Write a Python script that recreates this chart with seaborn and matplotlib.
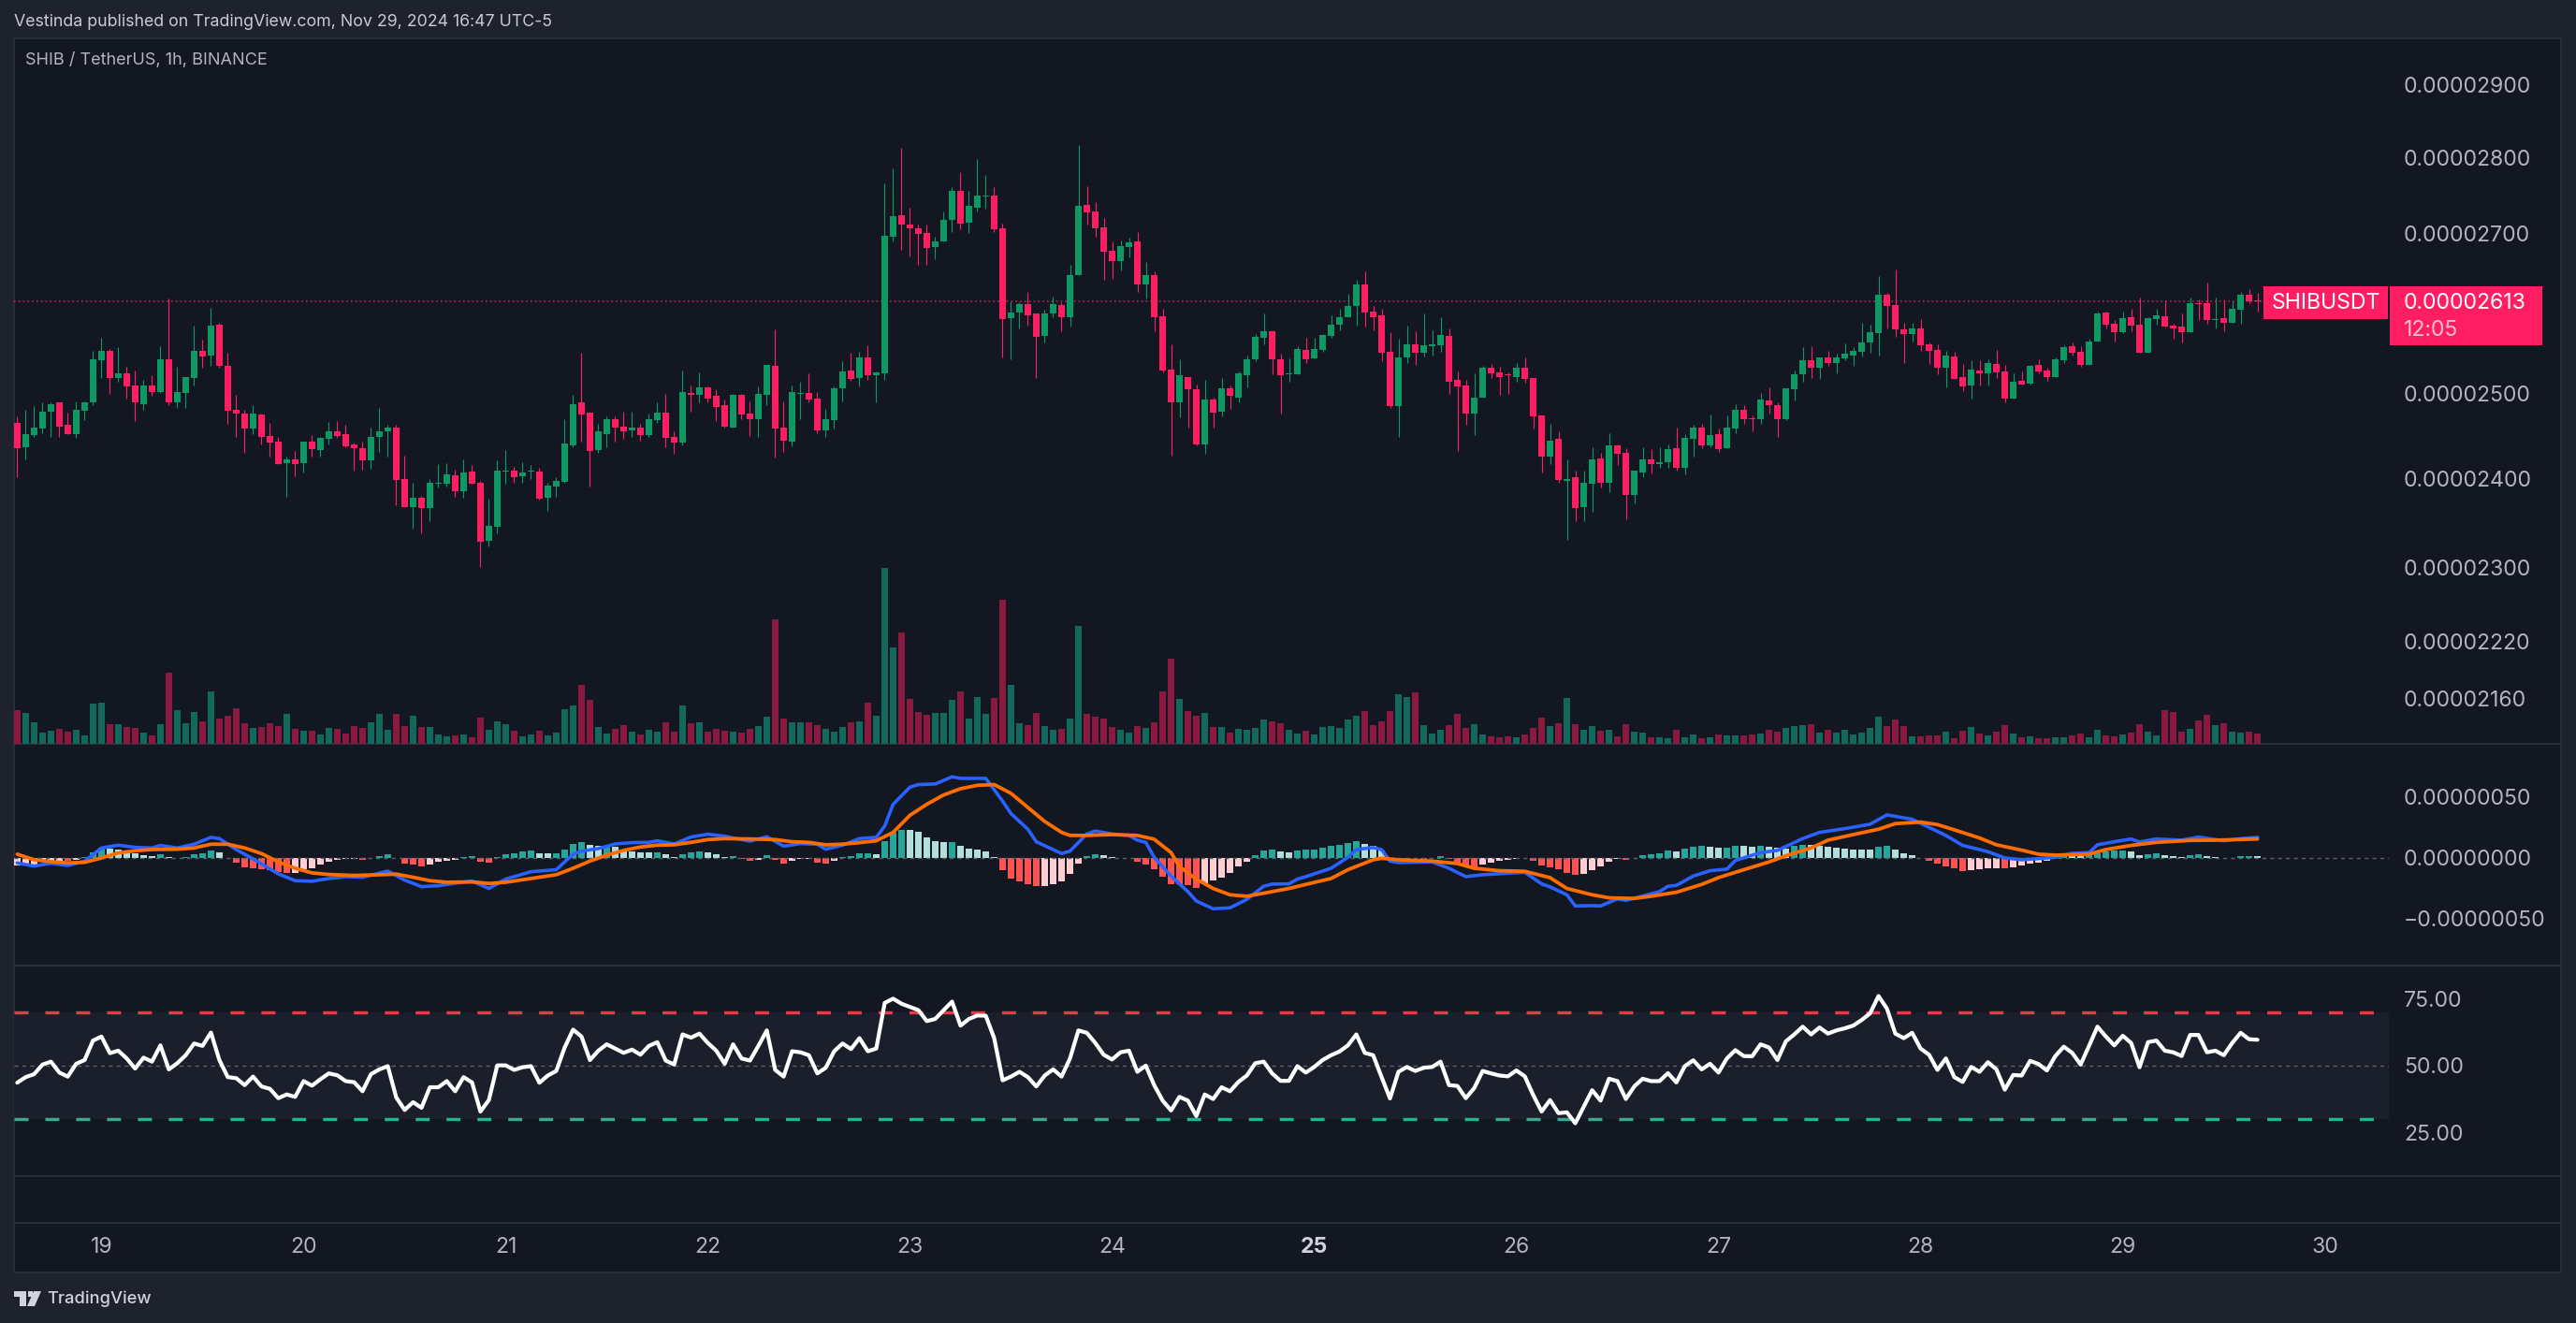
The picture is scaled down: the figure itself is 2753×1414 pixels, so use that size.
import numpy as np
import matplotlib
matplotlib.use("Agg")
import matplotlib.pyplot as plt
from matplotlib.patches import Rectangle, Polygon
from matplotlib.lines import Line2D
from matplotlib.ticker import NullLocator
import seaborn as sns

# prices in units of 1e-8 USDT, hourly candles
open_ = [2465,2436,2451,2458,2478,2489,2463,2452,2480,2489,
2540,2552,2519,2525,2510,2487,2510,2502,2541,2490,
2501,2519,2552,2546,2584,2534,2481,2476,2458,2475,
2450,2443,2418,2422,2418,2443,2433,2446,2455,2452,
2440,2435,2421,2448,2455,2459,2399,2367,2378,2366,
2394,2394,2404,2385,2408,2395,2329,2345,2408,2409,
2403,2408,2408,2378,2391,2396,2439,2489,2477,2433,
2452,2469,2461,2456,2459,2451,2468,2477,2448,2442,
2501,2499,2507,2497,2486,2460,2499,2476,2469,2499,
2534,2459,2443,2500,2501,2494,2456,2468,2506,2528,
2519,2544,2522,2525,2696,2724,2712,2707,2700,2682,
2689,2717,2755,2714,2733,2748,2750,2706,2592,2599,
2610,2598,2570,2598,2609,2593,2646,2737,2729,2708,
2677,2664,2682,2689,2634,2647,2595,2529,2490,2520,
2505,2440,2493,2478,2506,2495,2522,2541,2568,2576,
2542,2523,2523,2553,2543,2553,2570,2584,2593,2607,
2634,2600,2596,2551,2485,2544,2560,2550,2558,2559,
2570,2516,2510,2476,2495,2531,2526,2523,2520,2531,
2519,2474,2425,2446,2397,2402,2367,2394,2423,2395,
2439,2430,2381,2407,2422,2417,2419,2435,2413,2446,
2459,2439,2452,2435,2458,2481,2471,2469,2492,2486,
2469,2505,2523,2540,2531,2544,2537,2543,2546,2551,
2562,2574,2622,2609,2578,2573,2580,2560,2553,2531,
2545,2520,2510,2528,2525,2536,2527,2494,2515,2512,
2535,2528,2520,2540,2557,2551,2535,2563,2599,2585,
2575,2593,2584,2549,2591,2595,2583,2582,2575,2611,
2611,2590,2592,2586,2603,2622,2615]
high = [2473,2481,2485,2490,2490,2489,2477,2491,2491,2552,
2568,2554,2556,2532,2528,2516,2522,2557,2617,2532,
2520,2583,2566,2605,2586,2549,2498,2481,2486,2476,
2465,2448,2425,2432,2443,2451,2449,2466,2467,2463,
2442,2443,2460,2483,2463,2463,2427,2395,2380,2400,
2417,2418,2410,2422,2416,2397,2377,2421,2433,2414,
2419,2416,2413,2395,2402,2469,2498,2549,2478,2464,
2473,2473,2478,2478,2464,2476,2490,2500,2455,2528,
2510,2526,2509,2505,2493,2500,2500,2491,2509,2535,
2578,2491,2510,2514,2525,2502,2482,2509,2539,2549,
2551,2559,2527,2765,2785,2813,2733,2712,2711,2696,
2729,2760,2780,2755,2798,2777,2760,2713,2613,2612,
2625,2598,2603,2619,2612,2660,2817,2762,2741,2720,
2690,2691,2694,2702,2663,2651,2604,2560,2542,2520,
2511,2516,2495,2519,2510,2527,2546,2573,2598,2577,
2548,2543,2557,2568,2568,2573,2596,2604,2623,2640,
2651,2608,2604,2575,2567,2583,2576,2598,2577,2594,
2580,2527,2517,2525,2533,2536,2532,2526,2537,2544,
2519,2474,2464,2455,2422,2409,2409,2436,2430,2453,
2440,2435,2409,2436,2434,2436,2440,2460,2452,2463,
2464,2475,2458,2474,2487,2486,2474,2501,2507,2490,
2506,2528,2556,2558,2544,2552,2548,2561,2556,2586,
2584,2645,2624,2653,2586,2586,2591,2562,2560,2552,
2551,2536,2540,2540,2541,2553,2535,2525,2527,2535,
2542,2531,2544,2559,2562,2557,2567,2601,2600,2590,
2601,2604,2618,2594,2604,2615,2585,2598,2618,2616,
2637,2618,2616,2613,2625,2629,2624]
low = [2402,2422,2448,2453,2448,2448,2452,2447,2468,2486,
2519,2500,2514,2494,2467,2481,2497,2501,2486,2483,
2483,2510,2531,2533,2531,2464,2448,2430,2452,2440,
2425,2417,2379,2403,2407,2426,2425,2440,2447,2436,
2409,2410,2411,2431,2426,2370,2367,2343,2338,2351,
2390,2391,2379,2378,2394,2300,2323,2338,2394,2395,
2395,2400,2376,2363,2379,2395,2436,2443,2391,2430,
2436,2443,2446,2448,2444,2449,2465,2436,2429,2439,
2478,2489,2489,2467,2459,2460,2469,2450,2449,2486,
2424,2431,2438,2470,2489,2453,2449,2458,2491,2515,
2509,2516,2490,2516,2689,2679,2670,2659,2660,2667,
2689,2702,2705,2701,2729,2732,2702,2544,2542,2579,
2583,2519,2562,2594,2576,2582,2646,2712,2696,2641,
2642,2652,2669,2625,2617,2576,2526,2427,2472,2460,
2439,2429,2459,2473,2482,2489,2508,2539,2560,2523,
2476,2514,2523,2537,2543,2551,2568,2577,2593,2583,
2582,2577,2539,2483,2449,2537,2535,2545,2546,2551,
2500,2432,2463,2451,2495,2519,2499,2500,2514,2513,
2458,2407,2417,2395,2330,2351,2351,2362,2390,2384,
2416,2354,2372,2402,2406,2412,2413,2409,2405,2425,
2435,2436,2431,2435,2453,2464,2455,2464,2476,2448,
2468,2492,2514,2519,2518,2534,2524,2540,2534,2545,
2550,2546,2579,2569,2537,2563,2552,2536,2523,2508,
2518,2503,2494,2510,2510,2519,2489,2494,2511,2511,
2525,2515,2520,2537,2546,2532,2535,2563,2580,2563,
2574,2576,2549,2549,2584,2582,2567,2562,2575,2590,
2585,2579,2576,2586,2585,2611,2601]
close = [2435,2452,2459,2478,2487,2461,2452,2481,2490,2541,
2552,2519,2525,2509,2489,2510,2502,2541,2490,2502,
2520,2552,2545,2583,2533,2480,2476,2458,2476,2449,
2442,2417,2422,2417,2443,2434,2447,2455,2450,2438,
2435,2421,2448,2455,2459,2398,2367,2378,2366,2395,
2395,2405,2385,2407,2394,2328,2346,2409,2409,2402,
2407,2409,2377,2392,2397,2441,2487,2475,2432,2455,
2469,2459,2455,2459,2451,2469,2477,2447,2442,2502,
2498,2508,2494,2484,2461,2498,2475,2470,2500,2535,
2458,2444,2502,2501,2493,2456,2470,2506,2527,2518,
2544,2522,2526,2697,2723,2711,2706,2699,2681,2690,
2718,2756,2713,2736,2749,2750,2705,2591,2599,2610,
2596,2569,2598,2610,2593,2647,2736,2727,2707,2676,
2664,2683,2688,2634,2647,2594,2528,2490,2522,2505,
2440,2493,2477,2506,2497,2524,2541,2569,2576,2542,
2522,2524,2554,2542,2554,2571,2584,2594,2607,2635,
2599,2594,2550,2485,2544,2560,2550,2559,2560,2571,
2514,2509,2476,2495,2531,2525,2520,2522,2531,2518,
2473,2425,2444,2398,2400,2366,2395,2422,2395,2439,
2429,2381,2409,2422,2417,2419,2434,2413,2447,2459,
2439,2451,2434,2459,2481,2470,2470,2493,2486,2469,
2506,2523,2540,2531,2544,2537,2544,2548,2552,2562,
2575,2621,2608,2578,2573,2580,2559,2552,2531,2546,
2518,2509,2529,2525,2537,2526,2494,2514,2511,2534,
2527,2520,2541,2556,2549,2535,2563,2598,2584,2575,
2592,2583,2550,2592,2596,2582,2579,2575,2611,2610,
2590,2591,2586,2604,2621,2613,2613]
volume = [108,99,69,36,42,48,39,45,27,129,132,63,63,54,51,36,27,63,228,108,
66,102,72,168,81,90,114,66,51,54,66,57,96,48,42,42,30,51,48,33,
57,51,69,96,45,96,57,90,54,54,30,24,27,30,21,84,45,72,63,42,
24,30,42,27,36,111,123,189,141,54,33,48,60,39,30,45,39,69,39,123,
66,69,39,48,42,39,36,48,57,87,399,81,69,69,69,60,48,39,54,69,
72,132,90,564,309,357,144,102,93,99,99,141,168,81,150,96,147,462,189,66,
60,99,57,45,48,81,378,96,87,81,54,45,36,57,51,69,168,273,144,105,
90,99,54,54,36,48,45,51,78,72,66,45,33,42,30,54,57,51,78,90,
105,60,72,105,159,150,165,60,33,45,60,96,51,63,30,24,21,24,21,30,
51,84,57,66,147,63,45,57,42,45,24,63,39,36,21,21,18,45,21,30,
18,21,30,27,27,27,30,33,45,39,51,57,60,63,36,45,36,45,30,36,
51,87,57,78,57,24,24,27,27,39,18,42,54,33,27,39,60,33,21,24,
18,18,21,21,27,33,21,45,27,24,30,36,63,39,27,108,102,39,48,75,
93,60,66,39,36,39,33]
hist = [-6.4,-5.1,-5.1,-3.1,-2.3,-2.2,-2.6,-1.3,.8,4.6,8.5,7.7,6.9,5.6,3.8,2.6,1.8,3.3,.8,-.3,
.8,3.1,3.8,6.2,4.6,-.3,-4.1,-7.7,-8.5,-9.2,-10.3,-11.5,-12.3,-12.2,-9.2,-8.5,-5.4,-3.1,-1.5,-.8,
-.7,-1.3,.3,1.5,3.3,-.3,-4.6,-5.4,-6.9,-5.4,-3.1,-2.3,-1.3,.8,1.5,-3.1,-3.8,.8,3.1,3.8,
5.6,6.4,4.1,4.0,4.1,6.9,11.8,13.3,10.8,9.7,9.8,9.5,7.2,5.6,4.9,4.8,4.9,3.3,1,3.3,
4.9,5.6,4.9,3.3,1,1.3,-.5,-2.1,-1.3,2.6,-1.3,-4.4,-2.6,-1,-.9,-3.6,-4.4,-2.1,.8,1.8,
3.8,3.9,3.3,14.1,20.5,23.3,23.2,21.8,17.2,14.1,13.3,13.4,10.3,7.9,7.2,5.6,1,-10.3,-16.7,-19.5,
-21.8,-23.3,-23.1,-21.8,-19,-13.3,-4.4,1.8,3.3,2.6,.5,.3,.3,
-3.1,-5.6,-9,-15.4,-21.3,-21.8,-22.3,-24.9,-21.8,-18.7,-15.9,-12.6,-7.2,-3.3,2.3,6.4,6.5,5.6,4.9,6.4,
6.5,7.2,8.7,10.3,11,12.6,14.1,11.8,10.3,6.4,-.5,-.3,-.5,.3,-1,.3,1.3,-.5,-3.6,-6.4,
-9,-5.1,-3.6,-2.6,-1.5,-.5,-.3,-2.6,-6.2,-7.7,-9.5,-12.1,-14.1,-12.8,-10.3,-7.2,-3.3,-1,-1.8,.3,
2.3,3.3,4.1,6.4,5.4,7.9,9.5,9.6,9.2,8.7,8.8,10.3,10.2,9.5,10.3,9.5,8.7,7.9,10.3,11,
10.9,9.7,9.2,8.5,7.9,7.2,7.1,7,9.5,9.6,7.2,4.1,2.3,-.3,-2.6,-4.9,-6.7,-8.7,-10.5,-9.7,
-9.6,-8.5,-8.2,-8.7,-7.7,-6.4,-4.9,-3.6,-2.3,.3,1.8,1.3,1.2,2.3,4.1,5.6,6.2,6.4,5.6,2.6,
3.1,3.8,2.1,1.5,.8,2.3,3.3,1.8,1,-.3,-.2,1.5,1.6,1.3]
macd_hours = [1,3,5,7,9,11,13,15,17,18,20,22,24,25,27,29,32,34,36,38,40,42,45,47,49,51,53,55,57,59,62,65,67,68,70,72,74,76,77,79,81,83,85,86,88,90,92,94,96,97,99,101,103,104,105,107,108,110,112,113,116,118,119,121,122,125,126,128,129,131,
133,134,135,136,138,140,141,143,145,147,149,150,152,153,154,157,159,160,162,163,164,165,169,171,173,175,180,182,183,185,186,188,189,191,192,196,197,198,200,202,204,205,208,210,213,215,218,221,223,226,230,232,234,235,237,239,243,245,247,248,250,252,253,255,258,260,263,265,267]
macd_line = [-4.1,-6.7,-4.4,-6.2,-2.6,8.2,10.5,8.7,8.2,10.3,8.2,11.3,16.9,15.9,6.9,-.8,-13.1,-18.7,-19.2,-16.9,-15.4,-15.9,-10.8,-18.2,-23.6,-22.8,-20.8,-19,-25.1,-17.4,-11.3,-9.7,3.1,5.6,7.7,11.5,12.6,12.8,14.1,11.5,17.2,19.5,17.9,16.4,13.8,17.4,9.7,11.8,11.3,7.2,10.5,15.9,16.9,26.2,44.1,58.2,60.3,60.8,66.7,65.4,65.4,46.7,36.4,23.6,13.3,3.6,5.6,19.7,22.1,19.7,
18.5,14.6,12.8,.5,-14.9,-27.7,-35.4,-41.8,-41,-34.1,-23.3,-21.5,-21.3,-17.4,-15.4,-8.5,.5,6.9,8.5,6.9,-2.6,-3.8,-3.3,-8.5,-15.4,-13.8,-11.8,-21.3,-23.8,-30.3,-39.5,-39.2,-39.5,-33.6,-34.9,-27.7,-23.3,-22.6,-14.9,-10.5,-9.2,-2.1,4.4,6.2,15.9,21,24.1,27.7,35.4,31.8,18.5,10.3,6.9,5.1,0,-1.5,.5,3.8,4.4,10.8,13.3,15.6,13.1,15.6,14.6,17.2,14.1,15.9,16.9]
signal_hours = [1,3,5,7,9,11,13,15,17,20,22,24,26,28,30,32,34,36,38,41,44,46,48,50,52,55,57,59,62,65,67,69,71,73,75,77,79,81,83,85,88,91,93,95,97,99,101,103,105,107,109,111,113,115,117,119,121,123,125,126,128,131,
134,136,138,139,141,143,145,147,149,152,154,157,159,162,163,165,169,172,174,177,180,183,185,188,190,193,195,198,201,203,206,209,211,214,216,219,222,224,227,229,231,234,236,239,241,243,247,249,252,255,259,262,267]
signal_line = [3.1,-1.5,-3.1,-4.1,-3.6,0,4.1,5.9,6.9,7.2,8.2,11.3,11.3,8.2,3.6,-3.3,-8.5,-12.3,-13.6,-14.4,-13.8,-13.3,-15.9,-18.7,-20,-19.7,-21,-20,-16.9,-13.8,-8.5,-2.6,2.3,6.2,9,10.5,10.8,12.8,15.1,15.9,15.6,15.1,13.3,12.8,10.8,11.3,12.6,14.1,21,35.1,44.1,51.8,56.9,59.7,60.3,53.1,41.5,30,21,18.5,18.5,19.2,
18.5,15.4,4.4,-7.2,-17.4,-25.1,-30.3,-31.5,-29,-25.1,-21.8,-16.9,-9.7,-1.5,-.3,-1.5,-2.6,-4.6,-8.5,-10.5,-11,-16.2,-25.1,-30.3,-32.8,-33.3,-31.5,-28.2,-21.8,-16.2,-9.7,-3.3,1.8,8.2,14.6,19.2,23.6,28.2,29.5,27.4,23.1,16.4,10.8,6.4,3.1,2.3,3.1,6.9,10.3,12.8,14.4,14.6,15.6]
rsi = [43.6,45.7,46.8,50.4,51.5,47.4,45.9,50.7,52.1,59.4,
60.9,54.7,55.6,52.7,48.9,53,51.5,57.6,48.6,50.9,
53.9,58.3,57.4,62.4,52.1,45.7,45.3,42.7,45.9,42.2,
41.3,37.8,39.2,38.3,44.2,42.5,44.9,47.1,46.4,44.2,
43.8,40.4,46.8,48.6,49.8,38.1,33.4,36.3,34.2,41.9,
41.9,44.2,40.4,45.7,43.7,32.8,37.1,50.1,50.1,48.4,
49.4,49.8,43.6,46.3,48,56.8,63.5,60.9,52.1,55.6,
58,56.4,54.8,56,54.1,57.4,58.8,51.9,50.4,61.7,
60.5,62,58.5,55.6,50.7,58,52.7,51.9,57.4,63.2,
48.4,45.9,55.4,55,53.9,47.1,49.2,55.4,58.3,56.2,
60.3,55.4,56.4,73.5,75.1,73.2,72,70.8,66.7,67.5,
70.8,74,65,67.5,68.8,68.7,60.3,44.5,45.9,47.7,
45.7,42.2,46.3,48.6,45.9,52.7,63.2,62.3,58.5,54.1,
52.3,55,55.6,47.7,50,42.7,36.9,33.2,38.3,36.9,
31.1,39.2,37.5,
41.9,40.4,43.9,46.3,50.9,51.5,47.1,44.3,44.3,49.8,
47.4,49.5,52.1,53.9,55.3,57.6,61.7,54.8,53.9,45.7,
37.7,47.7,49.5,48,49.2,49.5,51.5,42.7,42.4,37.8,
41.6,48,47.1,46.3,46,48.2,46,39,32.8,37.1,
32.2,32.5,28.4,34.6,40.8,36.9,45.1,44.2,37.5,42.2,
45.1,44.2,44.2,47.2,43.7,49.8,52,48.6,50.7,47.4,
52.7,55.8,53.6,53.5,58,56.8,52.1,59.1,61.7,64.6,
61.7,64.3,62,63.2,64,65,67.1,69.6,76.1,71.4,
62,60.3,62.3,56.4,54.1,48.4,52.7,45.7,43.9,49.5,
47.7,51.3,48.6,41,46.5,46.3,51.8,50.6,48.2,53.6,
57.1,54.8,50.4,57.4,64.6,60.9,57.6,61.2,58.5,49.4,
58.8,59.4,55.6,55,53.6,61.5,61.5,55,55.6,53.9,
58.5,62.3,59.9,59.7]
price_ticks = [2160, 2220, 2300, 2400, 2500, 2700, 2800, 2900]
macd_ticks = [-50, 0, 50]
rsi_ticks = [25, 50, 75]
day_labels = ["19","20","21","22","23","24","25","26","27","28","29","30"]
last_price = 2613

W, H = 2753, 1414
BG, FRAME, GRID = "#131722", "#1E222D", "#2A2E39"
UP, DOWN = "#0E9964", "#FF1E62"
VUP, VDOWN = "#12685A", "#8A1940"
TXT = "#B2B5BE"
HCOL = {"tu": "#26A69A", "td": "#B2DFDB", "rd": "#FF5252", "ru": "#FFCDD2"}
PT = 0.72  # points per pixel at dpi 100
FS = 16.6

sns.set_theme(style="dark", rc={"figure.facecolor": FRAME, "axes.facecolor": "none",
                                "axes.edgecolor": "none", "savefig.facecolor": FRAME})
plt.rcParams["font.family"] = ["Inter", "DejaVu Sans"]

fig = plt.figure(figsize=(W / 100, H / 100), dpi=100)

def rect(l, t, r, b):
    return [l / W, 1 - b / H, (r - l) / W, (b - t) / H]

def hline(y, x0=15, x1=2737, color=GRID, lw=2):
    fig.add_artist(Line2D([x0 / W, x1 / W], [1 - y / H, 1 - y / H], color=color, lw=lw * PT, zorder=1))

fig.add_artist(Rectangle((15 / W, 1 - 1360 / H), (2737 - 15) / W, (1360 - 41) / H,
                         transform=fig.transFigure, facecolor=BG, edgecolor=GRID, lw=1.4, zorder=0))

hours = np.arange(1, len(close) + 1)
o, h, l, c = map(np.array, (open_, high, low, close))
up = c >= o
day_pos = 11 + 24 * np.arange(len(day_labels))
X0, X1 = 0.62, 282.6

# volume
ax_vol = fig.add_axes(rect(15, 41, 2553, 795), zorder=2)
sns.barplot(x=hours, y=volume, hue=np.where(up, "u", "d"), palette={"u": VUP, "d": VDOWN},
            native_scale=True, width=0.85, dodge=False, saturation=1, errorbar=None,
            linewidth=0, legend=False, ax=ax_vol)
ax_vol.set(xlim=(X0, X1), ylim=(0, 2262), xticks=[], yticks=[], xlabel="", ylabel="")

# candles
ax = fig.add_axes(rect(15, 41, 2553, 795), zorder=3)
ax.set_yscale("log")
ax.vlines(hours, l, h, colors=np.where(up, UP, DOWN), lw=1.1 * PT, zorder=2)
ax.bar(hours, np.abs(c - o), bottom=np.minimum(o, c), width=0.78,
       color=np.where(up, UP, DOWN), linewidth=0, zorder=3)
ax.axhline(last_price, color=DOWN, lw=1.6 * PT, ls=(0, (1, 2)), alpha=.8, zorder=1)
ax.set_xlim(X0, X1)
ax.set_ylim(2113, 2965)
ax.set_xticks([])
ax.yaxis.tick_right()
ax.set_yticks(price_ticks)
ax.set_yticklabels([f"{v * 1e-8:.8f}" for v in price_ticks])
ax.yaxis.set_minor_locator(NullLocator())
ax.tick_params(axis="y", length=0, pad=11.5, labelsize=FS, labelcolor=TXT)

# MACD
ax_m = fig.add_axes(rect(15, 795, 2553, 1032), zorder=3)
kinds = []
for i, v in enumerate(hist):
    rising = i == 0 or v >= hist[i - 1]
    kinds.append(("tu" if rising else "td") if v >= 0 else ("ru" if rising else "rd"))
sns.barplot(x=hours, y=hist, hue=kinds, palette=HCOL, native_scale=True, width=0.85, dodge=False,
            saturation=1, errorbar=None, linewidth=0, legend=False, ax=ax_m)
ax_m.axhline(0, color="#5D606B", lw=1.4 * PT, ls=(0, (3, 3)), zorder=1)
sns.lineplot(x=macd_hours, y=macd_line, color="#2962FF", lw=3.6 * PT, errorbar=None, ax=ax_m)
sns.lineplot(x=signal_hours, y=signal_line, color="#FF6D00", lw=3.8 * PT, errorbar=None, ax=ax_m)
ax_m.set(xlim=(X0, X1), ylim=(-88.5, 93.8), xticks=[], xlabel="", ylabel="")
ax_m.yaxis.tick_right()
ax_m.set_yticks(macd_ticks)
ax_m.set_yticklabels([(f"\u2212{abs(v) * 1e-8:.8f}" if v < 0 else f"{v * 1e-8:.8f}") for v in macd_ticks])
ax_m.tick_params(axis="y", length=0, pad=11.5, labelsize=FS, labelcolor=TXT)

# RSI
ax_r = fig.add_axes(rect(15, 1032, 2553, 1257), zorder=3)
ax_r.axhspan(30, 70, color="#1B1F2B", lw=0, zorder=0)
ax_r.axhline(50, color="#5D606B", lw=1.4 * PT, ls=(0, (3, 3)), zorder=1)
ax_r.axhline(70, color="#F23645", lw=3.4 * PT, ls=(0, (4.4, 5.3)), zorder=1)
ax_r.axhline(30, color="#1DB88F", lw=3.4 * PT, ls=(0, (4.4, 5.3)), zorder=1)
sns.lineplot(x=hours, y=rsi, color="white", lw=4.2 * PT, errorbar=None, ax=ax_r)
ax_r.set(xlim=(X0, X1), ylim=(8.6, 87.5), xticks=[], xlabel="", ylabel="")
ax_r.yaxis.tick_right()
ax_r.set_yticks(rsi_ticks)
ax_r.set_yticklabels([f"{v:.2f}" for v in rsi_ticks])
ax_r.tick_params(axis="y", length=0, pad=11.5, labelsize=FS, labelcolor=TXT)

# empty pane, carrying the time axis
ax_t = fig.add_axes(rect(15, 1257, 2553, 1307), zorder=3)
ax_t.set(xlim=(X0, X1), ylim=(0, 1), yticks=[])
ax_t.set_xticks(day_pos)
ax_t.set_xticklabels(day_labels)
ax_t.tick_params(axis="x", length=0, pad=11, labelsize=FS, labelcolor=TXT)
for lab in ax_t.get_xticklabels():
    if lab.get_text() == "25":
        lab.set_fontweight("bold")
        lab.set_color("#D1D4DC")

for y in (795, 1032, 1257, 1307):
    hline(y)

# last price labels
for (x0, y0, x1, y1) in ((2419, 306, 2552, 341), (2554, 306, 2717, 369)):
    fig.add_artist(Rectangle((x0 / W, 1 - y1 / H), (x1 - x0) / W, (y1 - y0) / H,
                             transform=fig.transFigure, facecolor=DOWN, lw=0, zorder=5))
tk = dict(va="center", ha="left", zorder=6, fontsize=FS)
fig.text(2428 / W, 1 - 324 / H, "SHIBUSDT", color="white", **tk)
fig.text(2569 / W, 1 - 324 / H, f"{last_price * 1e-8:.8f}", color="white", **tk)
fig.text(2569 / W, 1 - 353 / H, "12:05", color="#FFC0D4", **tk)

# header and footer
fig.text(15 / W, 1 - 24 / H, "Vestinda published on TradingView.com, Nov 29, 2024 16:47 UTC-5",
         color="#C8CBD3", fontsize=12.8, va="center", ha="left")
fig.text(27 / W, 1 - 64 / H, "SHIB / TetherUS, 1h, BINANCE", color=TXT, fontsize=13,
         va="center", ha="left")
fig.text(50 / W, 1 - 1388 / H, "TradingView", color="#D1D4DC", fontsize=13.2, fontweight="medium",
         va="center", ha="left")
logo = "#D1D4DC"
fig.add_artist(Polygon([[15 / W, 1 - 1380 / H], [28 / W, 1 - 1380 / H], [28 / W, 1 - 1396 / H],
                        [21 / W, 1 - 1396 / H], [21 / W, 1 - 1386 / H], [15 / W, 1 - 1386 / H]],
                       transform=fig.transFigure, facecolor=logo, lw=0, zorder=5))
fig.add_artist(Polygon([[36 / W, 1 - 1380 / H], [44 / W, 1 - 1380 / H], [37 / W, 1 - 1396 / H],
                        [29 / W, 1 - 1396 / H]],
                       transform=fig.transFigure, facecolor=logo, lw=0, zorder=5))
fig.add_artist(Rectangle((30 / W, 1 - 1386 / H), 5 / W, 6 / H, transform=fig.transFigure,
                         facecolor=logo, lw=0, zorder=5))

fig.savefig("out.png", dpi=100, facecolor=FRAME)
